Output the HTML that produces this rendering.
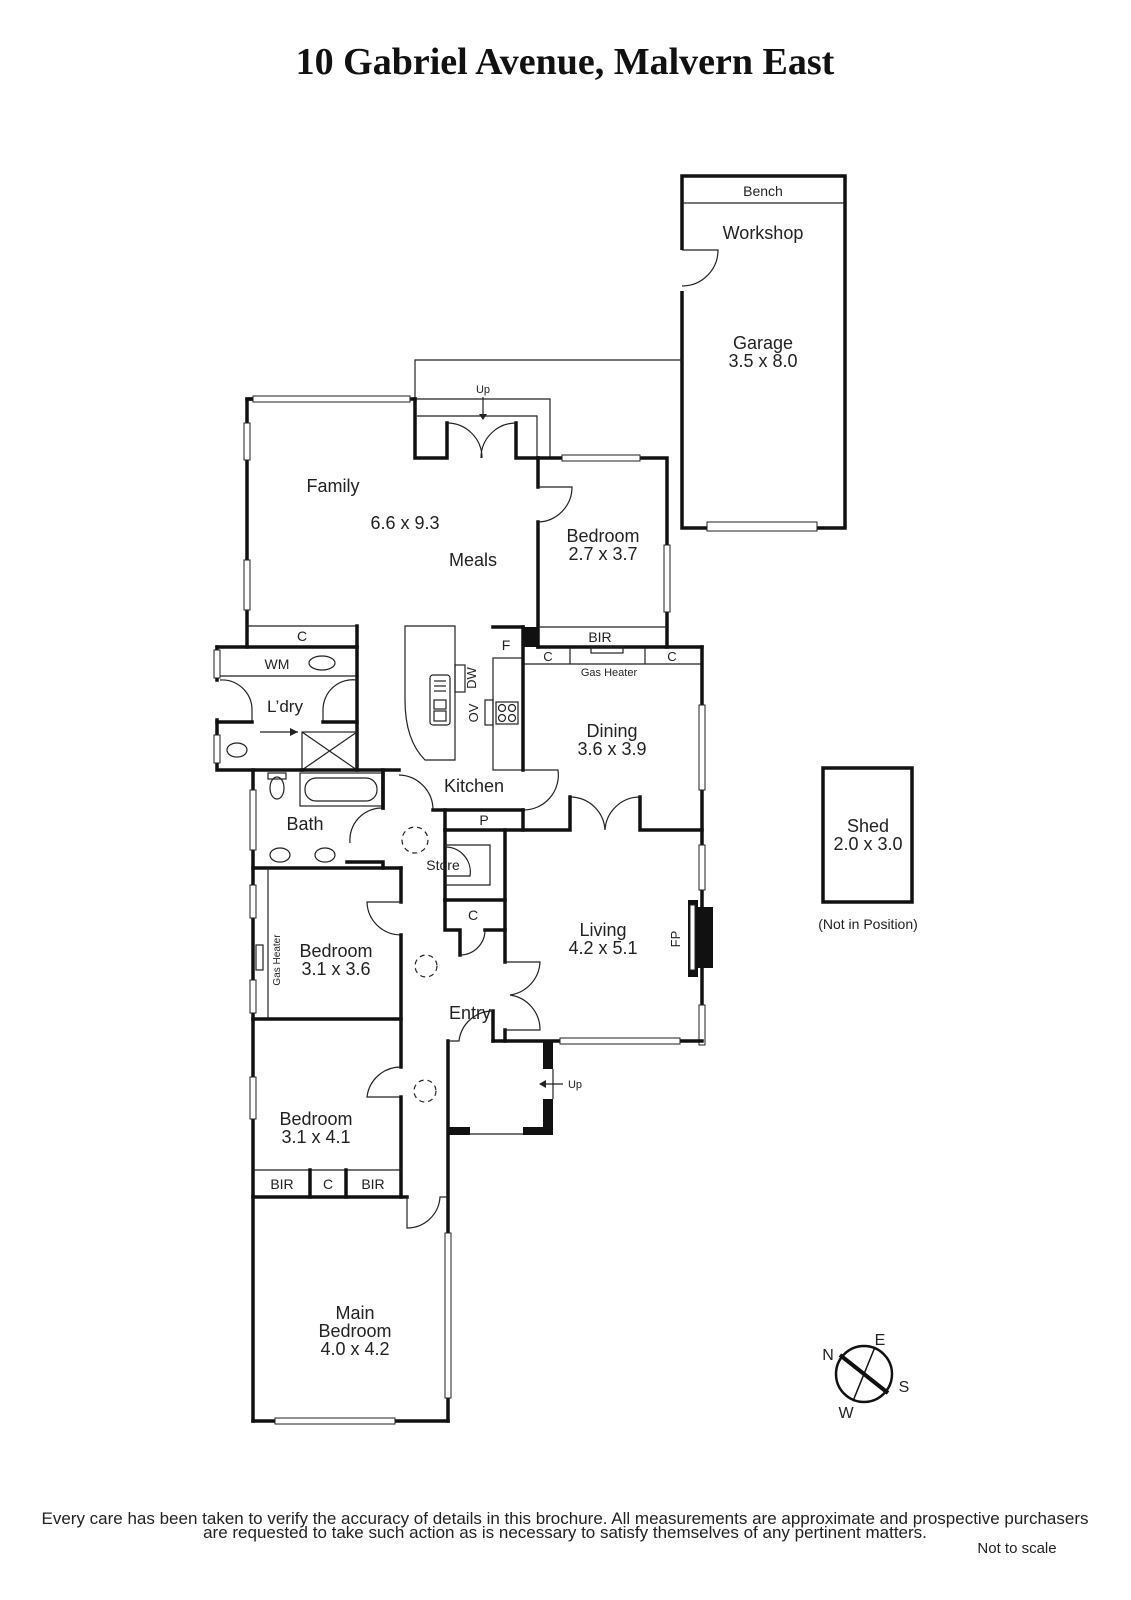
<!DOCTYPE html>
<html><head><meta charset="utf-8"><style>
html,body{margin:0;padding:0;background:#fff}
svg{display:block}
text{font-family:"Liberation Sans",sans-serif;fill:#222}
.w{stroke:#111;stroke-width:3.5;fill:none;stroke-linecap:square}
.t{stroke:#222;stroke-width:1.2;fill:none}
.win{fill:#fff;stroke:#222;stroke-width:1}
.d{stroke:#222;stroke-width:1.2;fill:none}
</style></head><body>
<svg width="1131" height="1600" viewBox="0 0 1131 1600" xmlns="http://www.w3.org/2000/svg">
<text x="565" y="74" text-anchor="middle" style="font-family:'Liberation Serif',serif;font-weight:bold;font-size:38px;fill:#111">10 Gabriel Avenue, Malvern East</text>

<!-- Garage -->
<rect x="682" y="176" width="163" height="352" class="w"/>
<line x1="682" y1="203" x2="845" y2="203" class="t"/>
<rect x="707" y="522" width="110" height="9" class="win"/>
<line x1="682" y1="250" x2="682" y2="291" stroke="#fff" stroke-width="5"/>
<path d="M682,250 h36 A36,36 0 0 1 682,286" class="d"/>
<text x="763" y="196" text-anchor="middle" font-size="14">Bench</text>
<text x="763" y="239" text-anchor="middle" font-size="18">Workshop</text>
<text x="763" y="349" text-anchor="middle" font-size="18">Garage</text>
<text x="763" y="367" text-anchor="middle" font-size="18">3.5 x 8.0</text>

<!-- thin connector lines -->
<polyline points="415,399 415,360 682,360" class="t"/>
<polyline points="415,399 550,399 550,458" class="t"/>
<polyline points="417,416 537,416 537,458" class="t"/>
<text x="483" y="393" text-anchor="middle" font-size="11">Up</text>
<line x1="483" y1="397" x2="483" y2="418" class="t"/><path d="M479,414 L483,420 L487,414Z" fill="#222"/>

<!-- Family -->
<polyline points="253,399 247,399 247,647" class="w"/>
<line x1="247" y1="399" x2="415" y2="399" class="w"/>
<rect x="253" y="396" width="157" height="6" class="win"/>
<rect x="244" y="423" width="6" height="37" class="win"/>
<rect x="244" y="560" width="6" height="50" class="win"/>
<polyline points="415,399 415,458 447,458 447,423" class="w"/>
<polyline points="516,423 516,458 538,458" class="w"/>
<path d="M447,423 A35,35 0 0 1 482,458 M516,423 A35,35 0 0 0 481,458" class="d"/>
<polyline points="538,458 667,458 667,647" class="w"/>
<rect x="562" y="455" width="78" height="6" class="win"/>
<rect x="664" y="545" width="6" height="67" class="win"/>
<polyline points="538,458 538,487" class="w"/>
<polyline points="538,522 538,647" class="w"/>
<path d="M538,487 h34 A35,35 0 0 1 538,522" class="d"/>
<rect x="523" y="627" width="15" height="20" fill="#111"/>
<text x="333" y="492" text-anchor="middle" font-size="18">Family</text>
<text x="405" y="529" text-anchor="middle" font-size="18">6.6 x 9.3</text>
<text x="473" y="566" text-anchor="middle" font-size="18">Meals</text>
<text x="603" y="542" text-anchor="middle" font-size="18">Bedroom</text>
<text x="603" y="560" text-anchor="middle" font-size="18">2.7 x 3.7</text>

<!-- BIR row -->
<line x1="538" y1="627" x2="667" y2="627" class="t"/>
<line x1="538" y1="647" x2="702" y2="647" class="w"/>
<text x="600" y="642" text-anchor="middle" font-size="14">BIR</text>
<line x1="523" y1="664" x2="702" y2="664" class="t"/>
<line x1="570" y1="647" x2="570" y2="664" class="t"/><line x1="645" y1="647" x2="645" y2="664" class="t"/>
<rect x="591" y="647" width="32" height="6" class="t"/>
<text x="548" y="661" text-anchor="middle" font-size="13">C</text>
<text x="672" y="661" text-anchor="middle" font-size="13">C</text>
<text x="609" y="676" text-anchor="middle" font-size="11">Gas Heater</text>

<!-- C closet & laundry -->
<line x1="247" y1="626" x2="357" y2="626" class="t"/>
<line x1="357" y1="626" x2="357" y2="647" class="w"/>
<text x="302" y="641" text-anchor="middle" font-size="14">C</text>
<polyline points="217,647 357,647" class="w"/>
<polyline points="217,647 217,680" class="w"/>
<polyline points="217,720 217,770 302,770" class="w"/>
<rect x="214" y="650" width="6" height="28" class="win"/>
<rect x="214" y="735" width="6" height="28" class="win"/>
<line x1="220" y1="676" x2="357" y2="676" class="t"/>
<polyline points="357,647 357,770" class="w"/>
<text x="277" y="669" text-anchor="middle" font-size="14">WM</text>
<ellipse cx="322" cy="663" rx="13" ry="7" class="t"/>
<path d="M220,680 A30,30 0 0 1 252,710 V722" class="d"/>
<path d="M357,680 A30,30 0 0 0 323,710 V722" class="d"/>
<line x1="217" y1="722" x2="252" y2="722" class="w"/><line x1="323" y1="722" x2="357" y2="722" class="w"/>
<line x1="260" y1="732" x2="298" y2="732" class="t"/><path d="M290,728 L298,732 L290,736Z" fill="#222"/>
<text x="285" y="712" text-anchor="middle" font-size="17">L’dry</text>
<ellipse cx="237" cy="750" rx="10" ry="7" class="t"/>
<rect x="302" y="732" width="55" height="38" class="t"/>
<line x1="302" y1="732" x2="357" y2="770" class="t"/><line x1="357" y1="732" x2="302" y2="770" class="t"/>

<!-- Bath -->
<polyline points="253,770 253,1421" class="w"/>
<rect x="250" y="790" width="6" height="60" class="win"/>
<polyline points="302,770 383,770 383,808" class="w"/>
<rect x="300" y="773" width="82" height="33" class="t"/>
<rect x="305" y="778" width="72" height="23" rx="11" class="t"/>
<ellipse cx="277" cy="788" rx="7" ry="11" class="t"/>
<rect x="268" y="773" width="18" height="6" class="t"/>
<text x="305" y="830" text-anchor="middle" font-size="18">Bath</text>
<ellipse cx="280" cy="855" rx="10" ry="7" class="t"/><ellipse cx="325" cy="855" rx="10" ry="7" class="t"/>
<path d="M383,808 A32,32 0 0 0 350,843" class="d"/>
<line x1="256" y1="868" x2="350" y2="868" class="t"/>
<polyline points="347,862 383,862 383,868" class="w"/>
<line x1="253" y1="868" x2="401" y2="868" class="w"/>

<!-- Island & kitchen -->
<path d="M405,626 H455 V760 H425 Q405,740 405,700 Z" class="t"/>
<rect x="430" y="675" width="20" height="50" rx="3" class="t"/>
<rect x="434" y="700" width="12" height="9" class="t"/><rect x="434" y="711" width="12" height="10" class="t"/>
<line x1="434" y1="681" x2="446" y2="681" class="t"/><line x1="434" y1="686" x2="446" y2="686" class="t"/><line x1="434" y1="691" x2="446" y2="691" class="t"/>
<rect x="455" y="665" width="10" height="27" class="t"/>
<text x="476" y="678" text-anchor="middle" font-size="13" transform="rotate(-90 476 678)">DW</text>
<line x1="493" y1="627" x2="523" y2="627" class="w"/>
<text x="506" y="650" text-anchor="middle" font-size="14">F</text>
<rect x="493" y="658" width="30" height="112" class="t"/>
<rect x="496" y="702" width="22" height="22" class="t"/>
<circle cx="502" cy="708" r="3.5" class="t"/><circle cx="512" cy="708" r="3.5" class="t"/>
<circle cx="502" cy="718" r="3.5" class="t"/><circle cx="512" cy="718" r="3.5" class="t"/>
<rect x="485" y="700" width="8" height="25" class="t"/>
<text x="478" y="713" text-anchor="middle" font-size="13" transform="rotate(-90 478 713)">OV</text>
<line x1="523" y1="627" x2="523" y2="770" class="w"/>
<line x1="702" y1="647" x2="702" y2="1041" class="w"/>
<rect x="699" y="705" width="6" height="85" class="win"/>
<path d="M523,770 h35 A35,35 0 0 1 523,810" class="d"/>
<text x="612" y="737" text-anchor="middle" font-size="18">Dining</text>
<text x="612" y="755" text-anchor="middle" font-size="18">3.6 x 3.9</text>
<text x="474" y="792" text-anchor="middle" font-size="18">Kitchen</text>
<polyline points="383,808 383,770 399,770" class="w"/>
<path d="M399,775 A35,35 0 0 1 433,810" class="d"/>
<line x1="433" y1="810" x2="523" y2="810" class="w"/>
<line x1="445" y1="810" x2="445" y2="830" class="w"/>
<line x1="523" y1="810" x2="523" y2="830" class="w"/>
<text x="484" y="825" text-anchor="middle" font-size="14">P</text>
<polyline points="445,830 570,830 570,797" class="w"/>
<polyline points="640,797 640,830 702,830" class="w"/>
<path d="M570,797 A35,35 0 0 1 605,830 M640,797 A35,35 0 0 0 605,830" class="d"/>

<!-- Store/C -->
<circle cx="415" cy="840" r="13" class="d" stroke-dasharray="5,4"/>
<polyline points="445,830 445,900" class="w"/>
<polyline points="445,845 490,845 490,885 445,885" class="t"/>
<path d="M445,847 A25,25 0 0 1 470,876 H445" class="d"/>
<text x="443" y="870" text-anchor="middle" font-size="14">Store</text>
<line x1="505" y1="830" x2="505" y2="962" class="w"/>
<line x1="445" y1="900" x2="505" y2="900" class="w"/>
<polyline points="445,900 445,930 460,930 460,955" class="w"/>
<line x1="485" y1="930" x2="505" y2="930" class="w"/>
<path d="M460,955 A25,25 0 0 0 485,930" class="d"/>
<text x="473" y="920" text-anchor="middle" font-size="14">C</text>

<!-- Living -->
<rect x="699" y="845" width="6" height="45" class="win"/>
<rect x="699" y="1005" width="6" height="40" class="win"/>
<path d="M688,900 H698 V907 H713 V968 H698 V977 H688 Z" fill="#111"/>
<rect x="690" y="905" width="5" height="65" fill="#fff" stroke="#222" stroke-width="1"/>
<text x="680" y="939" text-anchor="middle" font-size="13" transform="rotate(-90 680 939)">FP</text>
<text x="603" y="936" text-anchor="middle" font-size="18">Living</text>
<text x="603" y="954" text-anchor="middle" font-size="18">4.2 x 5.1</text>
<line x1="505" y1="1030" x2="505" y2="1041" class="w"/>
<path d="M505,962 h35 A35,35 0 0 1 510,995 A35,35 0 0 1 540,1030 H505" class="d"/>
<line x1="493" y1="1011" x2="493" y2="1041" class="w"/>
<line x1="493" y1="1041" x2="702" y2="1041" class="w"/>
<rect x="560" y="1038" width="120" height="6" class="win"/>
<text x="470" y="1019" text-anchor="middle" font-size="18">Entry</text>
<circle cx="426" cy="966" r="11" class="d" stroke-dasharray="5,4"/>

<!-- Porch -->
<polyline points="448,1041 448,1421" class="w"/>
<path d="M448,1041 h11 A34,34 0 0 1 493,1011" class="d"/>
<rect x="543" y="1041" width="10" height="28" fill="#111"/>
<rect x="543" y="1099" width="10" height="36" fill="#111"/>
<rect x="448" y="1127" width="22" height="8" fill="#111"/>
<rect x="523" y="1127" width="30" height="8" fill="#111"/>
<line x1="470" y1="1134" x2="523" y2="1134" class="t"/>
<line x1="553" y1="1069" x2="553" y2="1099" class="t"/>
<line x1="540" y1="1084" x2="563" y2="1084" class="t"/><path d="M546,1080 L539,1084 L546,1088Z" fill="#222"/>
<text x="575" y="1088" text-anchor="middle" font-size="11">Up</text>

<!-- Bedrooms left -->
<line x1="268" y1="868" x2="268" y2="1019" class="t"/>
<rect x="256" y="945" width="7" height="25" class="t"/>
<text x="280" y="960" text-anchor="middle" font-size="10" transform="rotate(-90 280 960)">Gas Heater</text>
<rect x="250" y="885" width="6" height="33" class="win"/>
<rect x="250" y="980" width="6" height="33" class="win"/>
<polyline points="401,868 401,902" class="w"/>
<path d="M401,902 h-34 A34,34 0 0 0 401,935" class="d"/>
<line x1="401" y1="935" x2="401" y2="1067" class="w"/>
<text x="336" y="957" text-anchor="middle" font-size="18">Bedroom</text>
<text x="336" y="975" text-anchor="middle" font-size="18">3.1 x 3.6</text>
<line x1="253" y1="1019" x2="401" y2="1019" class="w"/>
<path d="M401,1067 A34,34 0 0 0 367,1097 H401" class="d"/>
<line x1="401" y1="1097" x2="401" y2="1197" class="w"/>
<circle cx="425" cy="1091" r="11" class="d" stroke-dasharray="5,4"/>
<rect x="250" y="1077" width="6" height="42" class="win"/>
<text x="316" y="1125" text-anchor="middle" font-size="18">Bedroom</text>
<text x="316" y="1143" text-anchor="middle" font-size="18">3.1 x 4.1</text>
<line x1="253" y1="1170" x2="401" y2="1170" class="t"/>
<line x1="253" y1="1197" x2="407" y2="1197" class="w"/>
<line x1="310" y1="1170" x2="310" y2="1197" class="w"/><line x1="346" y1="1170" x2="346" y2="1197" class="w"/>
<text x="282" y="1189" text-anchor="middle" font-size="14">BIR</text>
<text x="328" y="1189" text-anchor="middle" font-size="14">C</text>
<text x="373" y="1189" text-anchor="middle" font-size="14">BIR</text>
<path d="M407,1197 V1228 A33,33 0 0 0 440,1197 H448" class="d"/>
<rect x="445" y="1233" width="6" height="165" class="win"/>
<line x1="253" y1="1421" x2="448" y2="1421" class="w"/>
<rect x="275" y="1418" width="120" height="6" class="win"/>
<text x="355" y="1319" text-anchor="middle" font-size="18">Main</text>
<text x="355" y="1337" text-anchor="middle" font-size="18">Bedroom</text>
<text x="355" y="1355" text-anchor="middle" font-size="18">4.0 x 4.2</text>

<!-- Shed -->
<rect x="823" y="768" width="89" height="134" class="w"/>
<text x="868" y="832" text-anchor="middle" font-size="18">Shed</text>
<text x="868" y="850" text-anchor="middle" font-size="18">2.0 x 3.0</text>
<text x="868" y="929" text-anchor="middle" font-size="14">(Not in Position)</text>

<!-- Compass -->
<circle cx="864" cy="1374" r="28" fill="none" stroke="#111" stroke-width="2.5"/>
<line x1="840" y1="1355" x2="888" y2="1393" stroke="#111" stroke-width="4"/>
<line x1="875" y1="1347" x2="853" y2="1401" stroke="#111" stroke-width="1.5"/>
<text x="828" y="1360" text-anchor="middle" font-size="16">N</text>
<text x="880" y="1345" text-anchor="middle" font-size="16">E</text>
<text x="904" y="1392" text-anchor="middle" font-size="16">S</text>
<text x="846" y="1418" text-anchor="middle" font-size="16">W</text>

<!-- Footer -->
<text x="565" y="1524" text-anchor="middle" font-size="17">Every care has been taken to verify the accuracy of details in this brochure.  All measurements are approximate and prospective purchasers</text>
<text x="565" y="1538" text-anchor="middle" font-size="17">are requested to take such action as is necessary to satisfy themselves of any pertinent matters.</text>
<text x="1017" y="1553" text-anchor="middle" font-size="15">Not to scale</text>
</svg>
</body></html>
